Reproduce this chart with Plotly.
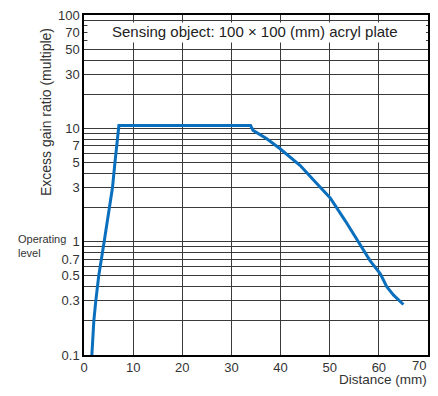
import math
import plotly.graph_objects as go

# curve (distance mm, excess gain ratio)
distance = [1.6, 2.0, 2.4, 3.0, 4.1, 5.0, 5.5, 5.8, 6.3, 7.1, 15, 25, 33.9, 34.4,
            37.2, 39.9, 44.0, 46.7, 50.1, 53.2, 56.2, 58.2, 60.3, 61.6, 63.0, 65.0]
gain = [0.1, 0.2, 0.3, 0.5, 1.0, 1.8, 2.4, 3.0, 5.0, 10.6, 10.6, 10.6, 10.6, 9.6,
        8.1, 6.6, 4.7, 3.5, 2.43, 1.52, 0.95, 0.68, 0.52, 0.40, 0.337, 0.279]

y_ticks = [0.1, 0.3, 0.5, 0.7, 1, 3, 5, 7, 10, 30, 50, 70, 100]
y_minor = [0.2, 0.4, 0.6, 0.8, 0.9, 2, 4, 6, 8, 9, 20, 40, 60, 80, 90]
x_ticks = [0, 10, 20, 30, 40, 50, 60, 70]

font = "Liberation Sans, Arial, sans-serif"
grid = "#3a3a3a"

fig = go.Figure()
fig.add_trace(go.Scatter(x=distance, y=gain, mode="lines",
                         line=dict(color="#0a6fbd", width=3), hoverinfo="skip"))

# white label box over the upper gridlines
fig.add_shape(type="rect", xref="x", yref="y domain", x0=0.7, x1=69.6,
              y0=0.919, y1=0.978, fillcolor="white", line=dict(width=0),
              layer="above")
fig.add_annotation(x=34.8, y=math.log10(71), xref="x", yref="y",
                   text="Sensing object: 100 × 100 (mm) acryl plate",
                   showarrow=False, font=dict(size=15, color="#222"))

# last x label sits flush with the right frame, as in the original
fig.add_annotation(x=1.0, y=0, xref="paper", yref="paper", xanchor="right",
                   yanchor="top", yshift=-1, text=str(x_ticks[-1]),
                   showarrow=False, font=dict(size=13, color="#333"))
fig.add_annotation(x=1.0, y=-0.071, xref="paper", yref="paper", xanchor="right",
                   yanchor="middle", text="Distance (mm)", showarrow=False,
                   borderpad=0, font=dict(size=13.5, color="#333"))
fig.add_annotation(x=-0.198, y=0.32, xref="paper", yref="paper", xanchor="left",
                   yanchor="middle", text="Operating<br>level", showarrow=False,
                   align="left", font=dict(size=11, color="#333"))
fig.add_annotation(x=-0.11, y=0.715, xref="paper", yref="paper",
                   xanchor="center", yanchor="middle",
                   text="Excess gain ratio (multiple)", textangle=-90,
                   showarrow=False, font=dict(size=14, color="#333"))

fig.update_layout(
    width=430, height=380,
    margin=dict(l=76, r=10, t=7, b=33),
    plot_bgcolor="white", paper_bgcolor="white",
    showlegend=False,
    font=dict(family=font, color="#333"),
    xaxis=dict(range=[0, 70], tickvals=x_ticks,
               ticktext=[str(v) for v in x_ticks[:-1]] + [""],
               showgrid=True, gridcolor=grid,
               gridwidth=1, showline=True, linecolor="black", linewidth=1.5,
               mirror=True, ticks="", tickfont=dict(size=13), zeroline=False,
               automargin=False, ticklabeloverflow="allow"),
    yaxis=dict(type="log", range=[-1, 2], tickvals=y_ticks,
               ticktext=[str(v) for v in y_ticks], showgrid=True,
               gridcolor=grid, gridwidth=1, showline=True, linecolor="black",
               linewidth=1.5, mirror=True, ticks="", tickfont=dict(size=13),
               automargin=False, ticklabeloverflow="allow",
               minor=dict(tickvals=y_minor, showgrid=True, gridcolor=grid,
                          gridwidth=1)),
)

fig.write_html("out.html")
